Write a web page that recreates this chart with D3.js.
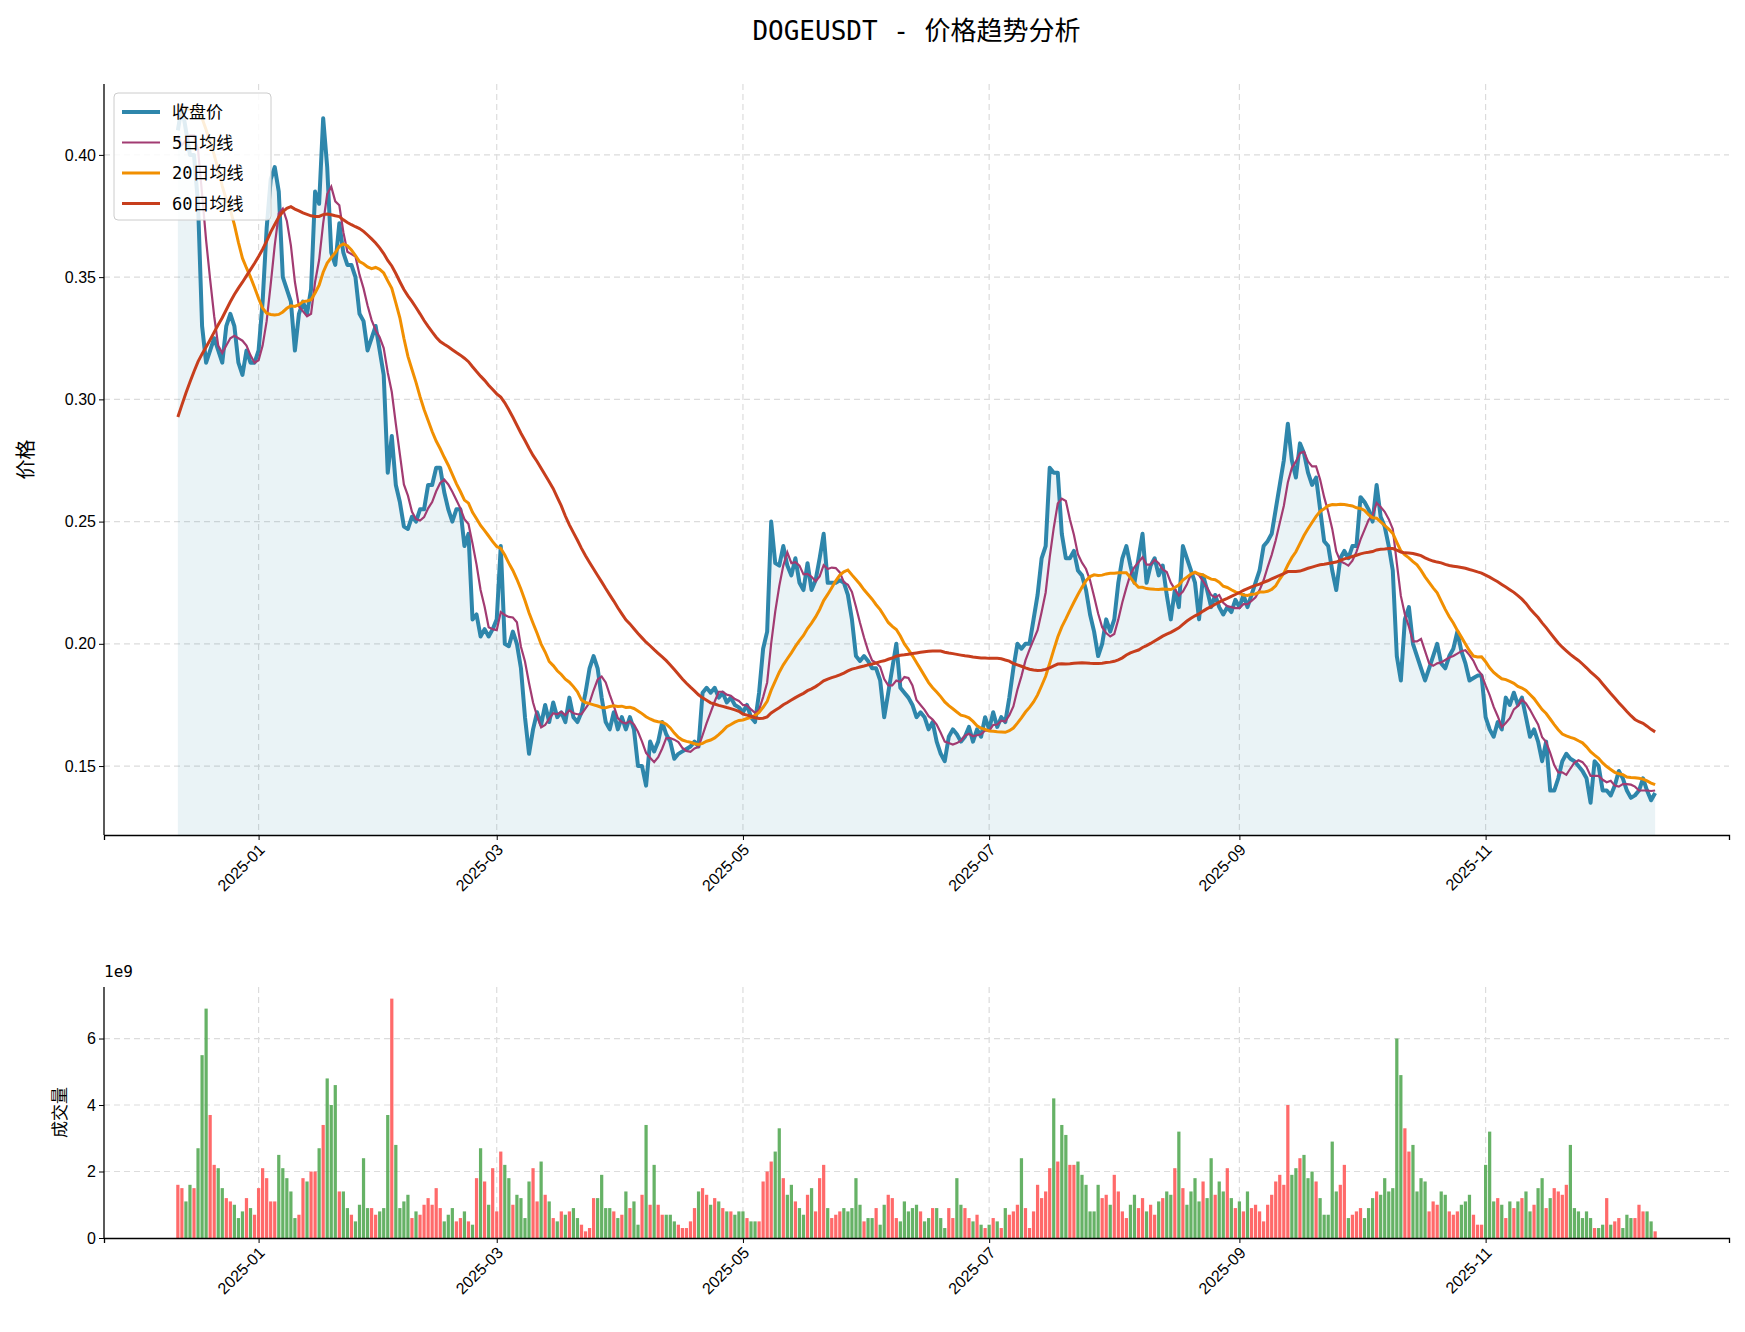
<!DOCTYPE html>
<html><head><meta charset="utf-8">
<script src="https://cdn.jsdelivr.net/npm/d3@7"></script>
<style>body{margin:0;background:#fff}svg{font-family:"DejaVu Sans Mono","Noto Sans CJK SC",monospace}</style>
</head><body><svg id="c" width="1745" height="1332"></svg>
<script>
const startDate = "2024-12-12";
// closes before the visible window (Oct 14 - Dec 11 2024), used only for moving averages
const priorCloses = [0.12,0.12,0.13,0.14,0.14,0.14,0.145,0.14,0.14,0.14,0.14,0.135,0.14,0.15,0.16,0.165,0.165,0.16,
0.16,0.155,0.16,0.17,0.17,0.21,0.20,0.22,0.26,0.30,0.38,0.38,0.39,0.37,0.38,0.40,0.38,0.37,0.38,0.38,0.38,0.39,0.44,0.42,0.41,0.40,0.38,0.40,0.41,0.42,
0.43,0.44,0.45,0.44,0.42,0.45,0.46,0.44,0.40,0.39,0.40];
const closeDec24 = [0.41,0.42,0.41,0.40,0.40,0.38,0.33,0.315,0.32,0.325,0.32,0.315,0.33,0.335,0.33,0.315,0.31,0.32,0.315,0.315];
const closeJan = [0.32,0.34,0.37,0.39,0.395,0.385,0.35,0.345,0.34,0.32,0.335,0.34,0.335,0.345,0.385,0.38,0.415,0.395,0.36,0.355,0.372,0.36,0.355,0.355,0.35,0.335,0.332,0.32,0.325,0.33,0.32];
const closeFeb = [0.31,0.27,0.285,0.265,0.258,0.248,0.247,0.252,0.25,0.255,0.255,0.265,0.265,0.272,0.272,0.262,0.255,0.25,0.255,0.255,0.24,0.245,0.21,0.212,0.203,0.206,0.203,0.206];
const closeMar = [0.21,0.24,0.20,0.199,0.205,0.20,0.19,0.17,0.155,0.165,0.172,0.167,0.175,0.168,0.176,0.17,0.172,0.168,0.178,0.17,0.168,0.172,0.18,0.19,0.195,0.19,0.178,0.168,0.165,0.172,0.165];
const closeApr = [0.17,0.165,0.17,0.165,0.15,0.15,0.142,0.16,0.156,0.16,0.168,0.163,0.16,0.153,0.155,0.156,0.157,0.158,0.16,0.158,0.18,0.182,0.18,0.182,0.178,0.18,0.176,0.178,0.175,0.174];
const closeMay = [0.172,0.175,0.17,0.168,0.18,0.198,0.205,0.25,0.233,0.232,0.24,0.232,0.228,0.235,0.225,0.222,0.233,0.222,0.226,0.235,0.245,0.225,0.225,0.225,0.226,0.225,0.22,0.21,0.195,0.193,0.195];
const closeJun = [0.193,0.19,0.19,0.185,0.17,0.18,0.19,0.2,0.182,0.18,0.178,0.175,0.17,0.172,0.17,0.165,0.168,0.16,0.155,0.152,0.162,0.165,0.163,0.16,0.162,0.166,0.16,0.165,0.162,0.17];
const closeJul = [0.165,0.172,0.166,0.17,0.168,0.178,0.19,0.20,0.198,0.20,0.20,0.21,0.22,0.235,0.24,0.272,0.27,0.27,0.245,0.235,0.235,0.238,0.23,0.228,0.222,0.212,0.205,0.195,0.2,0.21,0.205];
const closeAug = [0.21,0.225,0.235,0.24,0.232,0.225,0.235,0.245,0.225,0.232,0.235,0.228,0.232,0.22,0.21,0.222,0.215,0.24,0.235,0.23,0.225,0.21,0.228,0.222,0.215,0.22,0.215,0.212,0.215,0.213,0.218];
const closeSep = [0.215,0.22,0.215,0.22,0.225,0.23,0.24,0.242,0.245,0.255,0.265,0.275,0.29,0.275,0.268,0.282,0.278,0.27,0.265,0.268,0.255,0.242,0.24,0.23,0.222,0.235,0.238,0.235,0.24,0.24];
const closeOct = [0.26,0.258,0.255,0.25,0.265,0.252,0.248,0.24,0.23,0.195,0.185,0.21,0.215,0.2,0.195,0.19,0.185,0.19,0.195,0.2,0.192,0.19,0.195,0.198,0.205,0.197,0.192,0.185,0.186,0.187,0.187];
const closeNov = [0.17,0.165,0.162,0.168,0.165,0.178,0.175,0.18,0.175,0.178,0.17,0.162,0.165,0.16,0.152,0.16,0.14,0.14,0.145,0.152,0.155,0.153,0.152,0.15,0.148,0.145,0.135,0.152,0.15,0.14];
const closeDec25 = [0.14,0.138,0.142,0.148,0.145,0.14,0.137,0.138,0.14,0.145,0.14,0.136,0.139];

const volDec24 = [1.6,1.5,1.1,1.6,1.5,2.7,5.5,6.9,3.7,2.2,2.1,1.5,1.2,1.1,1.0,0.6,0.8,1.2,0.9,0.7];
const volJan = [1.5,2.1,1.8,1.1,1.1,2.5,2.1,1.8,1.4,0.6,0.7,1.8,1.7,2.0,2.0,2.7,3.4,4.8,4.0,4.6,1.4,1.4,0.9,0.7,0.5,1.0,2.4,0.9,0.9,0.7,0.8];
const volFeb = [0.9,3.7,7.2,2.8,0.9,1.1,1.3,0.6,0.8,0.7,1.0,1.2,1.0,1.5,0.9,0.5,0.7,0.9,0.5,0.6,0.8,0.5,0.4,1.8,2.7,1.7,1.0,2.1];
const volMar = [0.8,2.6,2.2,1.8,1.0,1.3,1.2,0.6,1.7,2.1,1.1,2.3,1.3,1.1,0.6,0.5,0.8,0.7,0.8,0.9,0.6,0.4,0.2,0.3,1.2,1.2,1.9,0.9,0.9,0.8,0.6];
const volApr = [0.7,1.4,0.9,1.1,0.4,1.3,3.4,1.0,2.2,1.0,0.7,0.7,0.7,0.5,0.4,0.3,0.3,0.5,0.9,1.4,1.5,1.3,1.0,1.2,1.1,0.9,0.8,0.8,0.7,0.8];
const volMay = [0.8,0.6,0.5,0.5,0.5,1.7,2.0,2.3,2.6,3.3,1.8,1.3,1.6,1.1,0.9,0.7,1.3,1.5,0.8,1.8,2.2,0.9,0.6,0.7,0.8,0.9,0.8,0.9,1.8,1.0,0.5];
const volJun = [0.6,0.6,0.9,0.4,1.0,1.3,1.2,0.6,0.5,1.1,0.8,0.9,1.0,0.8,0.5,0.6,0.9,0.9,0.6,0.3,0.9,0.6,1.8,1.0,0.9,0.6,0.5,0.7,0.4,0.3];
const volJul = [0.4,0.6,0.5,0.3,0.9,0.7,0.8,1.0,2.4,0.9,0.3,0.8,1.6,1.2,1.4,2.1,4.2,2.3,3.4,3.1,2.2,2.2,2.3,1.9,1.6,0.8,0.8,1.6,1.2,1.3,1.0];
const volAug = [1.9,1.4,0.8,0.6,1.0,1.3,0.9,1.2,0.8,1.0,0.7,1.1,1.2,1.4,1.3,2.1,3.2,1.5,1.0,1.4,1.8,1.1,1.7,1.2,2.4,1.3,1.7,1.4,2.1,1.2,0.9];
const volSep = [1.1,0.8,1.4,0.9,1.0,0.8,0.5,1.0,1.3,1.7,1.9,1.6,4.0,1.9,2.1,2.4,2.5,1.8,2.0,1.7,1.2,0.7,0.7,2.9,1.4,1.6,2.2,0.6,0.7,0.8];
const volOct = [0.9,0.6,0.9,1.2,1.4,1.3,1.8,1.4,1.5,6.0,4.9,3.3,2.6,2.8,1.4,1.8,1.7,0.8,1.1,1.0,1.4,1.3,0.8,0.7,0.8,1.0,1.1,1.3,0.7,0.4,0.4];
const volNov = [2.2,3.2,1.1,1.2,1.0,0.6,1.1,0.9,1.1,1.2,1.4,0.8,1.0,1.5,1.8,0.9,1.2,1.5,1.4,1.3,1.6,2.8,0.9,0.8,0.6,0.8,0.6,0.3,0.3,0.4];
const volDec25 = [1.2,0.4,0.5,0.6,0.3,0.7,0.6,0.6,1.0,0.8,0.8,0.5,0.2];

const xTickLabels = ["2025-01","2025-03","2025-05","2025-07","2025-09","2025-11"];
const priceTicks = [0.15,0.20,0.25,0.30,0.35,0.40];
const volTicks = [0,2,4,6];
const maWindows = [5,20,60];
const maNames = ["5日均线","20日均线","60日均线"];

const closes = [].concat(closeDec24,closeJan,closeFeb,closeMar,closeApr,closeMay,closeJun,closeJul,closeAug,closeSep,closeOct,closeNov,closeDec25);
const vols = [].concat(volDec24,volJan,volFeb,volMar,volApr,volMay,volJun,volJul,volAug,volSep,volOct,volNov,volDec25);
const parse = d3.utcParse("%Y-%m-%d");
const t0 = parse(startDate);
const dates = closes.map((_,i)=>d3.utcDay.offset(t0,i));
const all = priorCloses.concat(closes);
const P = priorCloses.length;
const mas = maWindows.map(w => closes.map((_,i)=>d3.mean(all.slice(Math.max(0,P+i-w+1),P+i+1))));

const svg = d3.select("#c");
const L=104, R=1729, T1=84, B1=835, T2=987, B2=1238;
const pad = 18.3*864e5;
const x = d3.scaleUtc().domain([+dates[0]-pad, +dates[dates.length-1]+pad]).range([L,R]);
const y = d3.scaleLinear().domain([0.1218,0.429]).range([B1,T1]);
const yv = d3.scaleLinear().domain([0,7.55e9]).range([B2,T2]);
const tickDates = xTickLabels.map(s=>parse(s+"-01"));

function grid(yS, ticks, top, bot){
  const g=svg.append("g").attr("stroke","#dcdcdc").attr("stroke-dasharray","6,4").attr("stroke-width",1.2);
  tickDates.forEach(d=>g.append("line").attr("x1",x(d)).attr("x2",x(d)).attr("y1",top).attr("y2",bot));
  ticks.forEach(v=>g.append("line").attr("x1",L).attr("x2",R).attr("y1",yS(v)).attr("y2",yS(v)));
}
grid(y, priceTicks, T1, B1);
grid(yv, volTicks.slice(1).map(v=>v*1e9), T2, B2);

svg.append("path").datum(closes).attr("fill","#2E86AB").attr("fill-opacity",0.1)
  .attr("d",d3.area().x((d,i)=>x(dates[i])).y0(B1).y1(d=>y(d)));
svg.append("path").datum(closes).attr("fill","none").attr("stroke","#2E86AB").attr("stroke-width",4).attr("stroke-linejoin","round")
  .attr("d",d3.line().x((d,i)=>x(dates[i])).y(d=>y(d)));
const maColors=["#A23B72","#F18F01","#C73E1D"], maW=[2.2,3,3];
mas.forEach((m,k)=>svg.append("path").datum(m).attr("fill","none").attr("stroke",maColors[k]).attr("stroke-width",maW[k])
  .attr("d",d3.line().x((d,i)=>x(dates[i])).y(d=>y(d))));

function axes(yS, top, bot, yfmt, ticks){
  svg.append("g").attr("transform",`translate(0,${bot})`)
    .call(d3.axisBottom(x).tickValues(tickDates).tickFormat(d3.utcFormat("%Y-%m")).tickSizeOuter(0).tickSize(5))
    .call(g=>g.select(".domain").attr("stroke","#000").attr("stroke-width",1.3))
    .selectAll("text").attr("font-size",16).attr("fill","#000").attr("text-anchor","end")
    .attr("transform","rotate(-45)").attr("dx","-0.4em").attr("dy","0.5em");
  svg.append("g").attr("transform",`translate(${L},0)`)
    .call(d3.axisLeft(yS).tickValues(ticks).tickFormat(yfmt).tickSizeOuter(0).tickSize(5))
    .call(g=>g.select(".domain").attr("stroke","#000").attr("stroke-width",1.3).attr("d",`M0,${top}V${bot}`))
    .selectAll("text").attr("font-size",16).attr("fill","#000");
}
axes(y,T1,B1,d3.format(".2f"),priceTicks);

const bw = (x(dates[1])-x(dates[0]))*0.8;
svg.append("g").selectAll("rect").data(vols).join("rect")
  .attr("x",(d,i)=>x(dates[i])-bw/2).attr("width",bw)
  .attr("y",d=>yv(d*1e9)).attr("height",d=>B2-yv(d*1e9))
  .attr("fill",(d,i)=> (i>0 && closes[i]<closes[i-1]) ? "#55AA55" : "#FF5A5A").attr("fill-opacity",0.9);
axes(yv,T2,B2,d=>d3.format("d")(d/1e9),volTicks.map(v=>v*1e9));
svg.append("text").attr("x",L).attr("y",T2-10).attr("font-size",16).text("1e9");

svg.append("text").attr("x",(L+R)/2).attr("y",40).attr("text-anchor","middle").attr("font-size",26).text("DOGEUSDT - 价格趋势分析");
svg.append("text").attr("transform",`translate(33,${(T1+B1)/2}) rotate(-90)`).attr("text-anchor","middle").attr("font-size",20).text("价格");
svg.append("text").attr("transform",`translate(66,${(T2+B2)/2}) rotate(-90)`).attr("text-anchor","middle").attr("font-size",17).text("成交量");

const lg = svg.append("g").attr("transform",`translate(${L+10},${T1+9})`);
lg.append("rect").attr("width",157).attr("height",127).attr("rx",4).attr("fill","#fff").attr("fill-opacity",0.85).attr("stroke","#ccc");
const items=[["收盘价","#2E86AB",4]].concat(maNames.map((n,k)=>[n,maColors[k],maW[k]]));
items.forEach((it,k)=>{
  const yy=19+k*30.5;
  lg.append("line").attr("x1",8).attr("x2",46).attr("y1",yy).attr("y2",yy).attr("stroke",it[1]).attr("stroke-width",it[2]);
  lg.append("text").attr("x",58).attr("y",yy+6).attr("font-size",17).text(it[0]);
});
</script></body></html>
